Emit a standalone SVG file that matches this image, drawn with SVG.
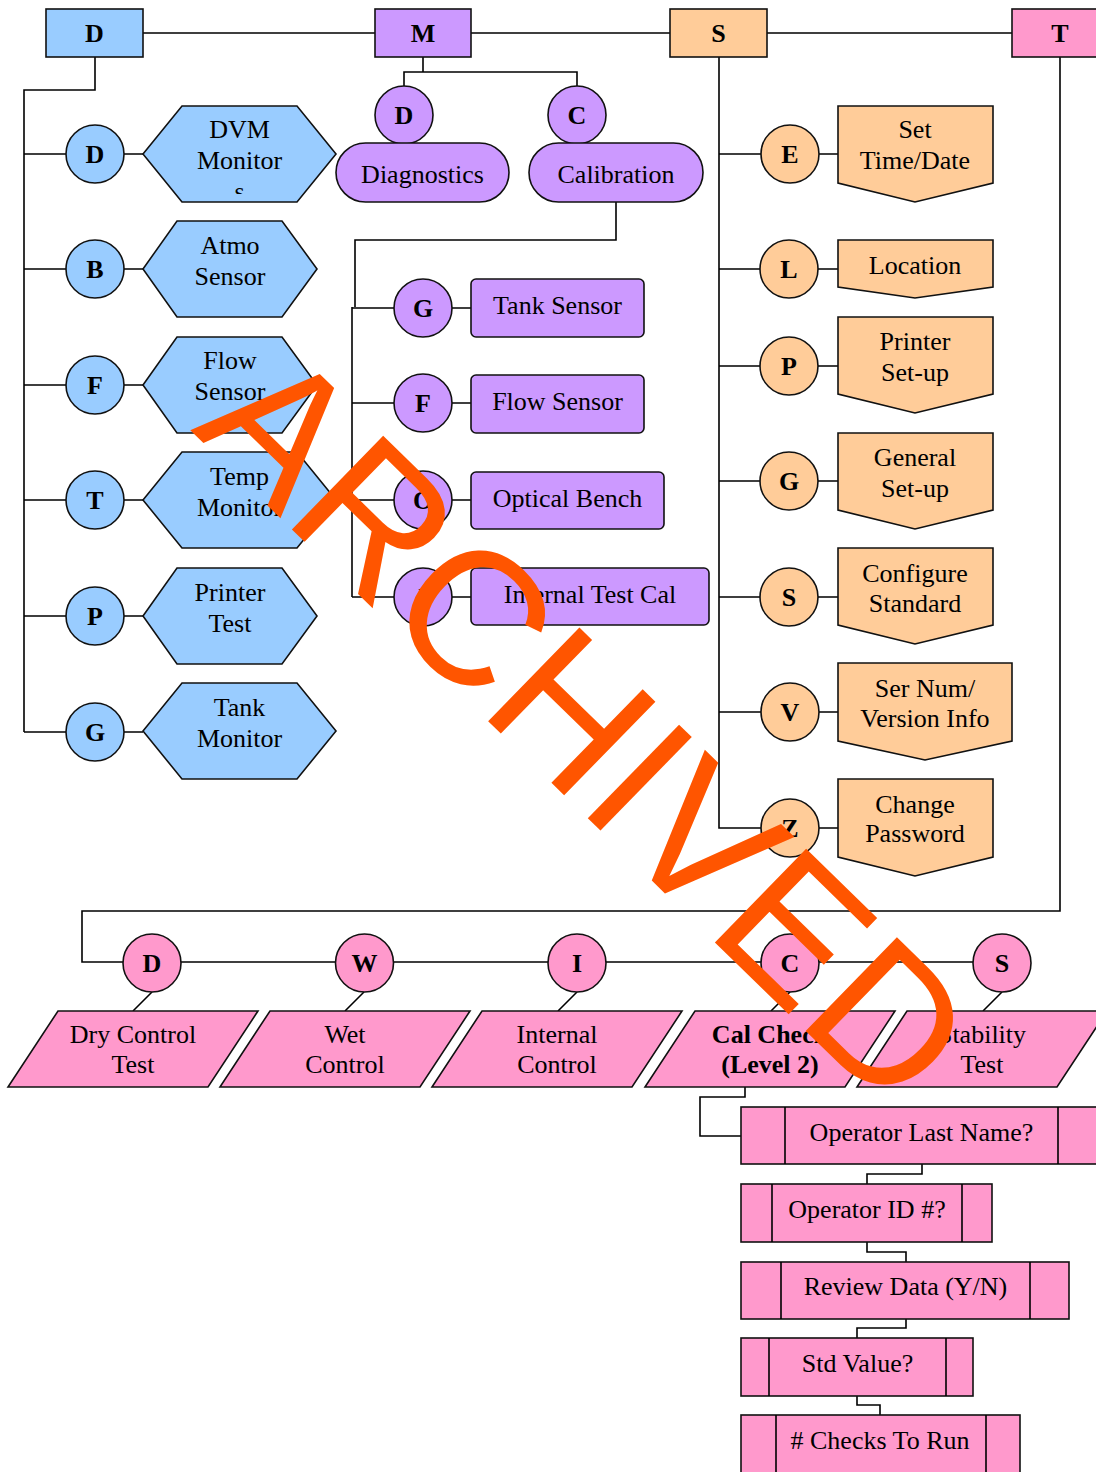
<svg xmlns="http://www.w3.org/2000/svg" width="1096" height="1472" viewBox="0 0 1096 1472">
<style>
  .ln{fill:none;stroke:#000;stroke-width:1.6}
  .sh{stroke:#111;stroke-width:1.6}
  .blue{fill:#99CCFF}
  .purple{fill:#CC99FF}
  .orange{fill:#FFCC99}
  .pink{fill:#FF99CC}
  .t{font-family:"Liberation Serif","Times New Roman",serif;font-size:26px;fill:#000;text-anchor:middle}
  .b{font-weight:bold}
  .wm{font-family:"Liberation Sans",Arial,sans-serif;font-size:190px;fill:#FF5500}
</style>
<defs>
  <clipPath id="dvmclip"><rect x="140" y="100" width="200" height="94"/></clipPath>
</defs>
<rect width="1096" height="1472" fill="#fff"/>

<g id="connectors">
  <path class="ln" d="M143,33 H375 M471,33 H670 M767,33 H1012"/>
  <path class="ln" d="M95,57 V90 H24 V732"/>
  <path class="ln" d="M24,154 H66 M24,269 H66 M24,385 H66 M24,500 H66 M24,616 H66 M24,732 H66"/>
  <path class="ln" d="M124,154 H143 M124,269 H143 M124,385 H143 M124,500 H143 M124,616 H143 M124,732 H143"/>
  <path class="ln" d="M423,57 V72 M404,86 V72 H577 V86"/>
  <path class="ln" d="M616,202 V240 H355 V307"/>
  <path class="ln" d="M352,307 V597"/>
  <path class="ln" d="M352,308 H394 M352,403 H394 M352,500 H394 M352,597 H394"/>
  <path class="ln" d="M452,308 H471 M452,403 H471 M452,500 H471 M452,597 H471"/>
  <path class="ln" d="M719,57 V828 H761"/>
  <path class="ln" d="M719,154 H761 M719,269 H760 M719,366 H760 M719,481 H760 M719,597 H760 M719,712 H761"/>
  <path class="ln" d="M819,154 H838 M818,269 H838 M818,366 H838 M818,481 H838 M818,597 H838 M819,712 H838 M819,828 H838"/>
  <path class="ln" d="M1060,57 V911 H82 V962 H1002"/>
  <path class="ln" d="M152,992 L133,1011 M364,992 L345,1011 M577,992 L558,1011 M790,992 L771,1011 M1002,992 L983,1011"/>
  <path class="ln" d="M745,1087 V1097 H700 V1136 H741"/>
  <path class="ln" d="M922,1164 V1174 H867 V1184"/>
  <path class="ln" d="M867,1242 V1252 H906 V1262"/>
  <path class="ln" d="M906,1319 V1328 H857 V1338"/>
  <path class="ln" d="M857,1396 V1405 H880 V1415"/>
</g>

<g id="top-D"><rect class="sh blue" x="46" y="9" width="97" height="48"/><text class="t b" x="94.5" y="42">D</text></g>
<g id="top-M"><rect class="sh purple" x="375" y="9" width="96" height="48"/><text class="t b" x="423" y="42">M</text></g>
<g id="top-S"><rect class="sh orange" x="670" y="9" width="97" height="48"/><text class="t b" x="718.5" y="42">S</text></g>
<g id="top-T"><rect class="sh pink" x="1012" y="9" width="96" height="48"/><text class="t b" x="1060" y="42">T</text></g>

<g id="d-dvm">
  <circle class="sh blue" cx="95" cy="154" r="29"/><text class="t b" x="95" y="163">D</text>
  <polygon class="sh blue" points="143,154 182,106 297,106 336,154 297,202 182,202"/>
  <text class="t" x="239.5" y="138">DVM</text><text class="t" x="239.5" y="169">Monitor</text>
  <text class="t" x="239.5" y="200" clip-path="url(#dvmclip)">s</text>
</g>
<g id="d-atmo">
  <circle class="sh blue" cx="95" cy="269" r="29"/><text class="t b" x="95" y="278">B</text>
  <polygon class="sh blue" points="143,269 177,221 282,221 317,269 282,317 177,317"/>
  <text class="t" x="230" y="254">Atmo</text><text class="t" x="230" y="285">Sensor</text>
</g>
<g id="d-flow">
  <circle class="sh blue" cx="95" cy="385" r="29"/><text class="t b" x="95" y="394">F</text>
  <polygon class="sh blue" points="143,385 177,337 282,337 317,385 282,433 177,433"/>
  <text class="t" x="230" y="369">Flow</text><text class="t" x="230" y="400">Sensor</text>
</g>
<g id="d-temp">
  <circle class="sh blue" cx="95" cy="500" r="29"/><text class="t b" x="95" y="509">T</text>
  <polygon class="sh blue" points="143,500 182,452 297,452 336,500 297,548 182,548"/>
  <text class="t" x="239.5" y="485">Temp</text><text class="t" x="239.5" y="516">Monitor</text>
</g>
<g id="d-printer">
  <circle class="sh blue" cx="95" cy="616" r="29"/><text class="t b" x="95" y="625">P</text>
  <polygon class="sh blue" points="143,616 177,568 282,568 317,616 282,664 177,664"/>
  <text class="t" x="230" y="601">Printer</text><text class="t" x="230" y="632">Test</text>
</g>
<g id="d-tank">
  <circle class="sh blue" cx="95" cy="732" r="29"/><text class="t b" x="95" y="741">G</text>
  <polygon class="sh blue" points="143,731 182,683 297,683 336,731 297,779 182,779"/>
  <text class="t" x="239.5" y="716">Tank</text><text class="t" x="239.5" y="747">Monitor</text>
</g>

<g id="m-diag">
  <circle class="sh purple" cx="404" cy="115" r="29"/><text class="t b" x="404" y="124">D</text>
  <rect class="sh purple" x="336" y="143" width="173" height="59" rx="29.5"/>
  <text class="t" x="422.5" y="183">Diagnostics</text>
</g>
<g id="m-cal">
  <circle class="sh purple" cx="577" cy="115" r="29"/><text class="t b" x="577" y="124">C</text>
  <rect class="sh purple" x="529" y="143" width="174" height="59" rx="29.5"/>
  <text class="t" x="616" y="183">Calibration</text>
</g>
<g id="m-tank">
  <circle class="sh purple" cx="423" cy="308" r="29"/><text class="t b" x="423" y="317">G</text>
  <rect class="sh purple" x="471" y="279" width="173" height="58" rx="5"/>
  <text class="t" x="557.5" y="314">Tank Sensor</text>
</g>
<g id="m-flow">
  <circle class="sh purple" cx="423" cy="403" r="29"/><text class="t b" x="423" y="412">F</text>
  <rect class="sh purple" x="471" y="375" width="173" height="58" rx="5"/>
  <text class="t" x="557.5" y="410">Flow Sensor</text>
</g>
<g id="m-optical">
  <circle class="sh purple" cx="423" cy="500" r="29"/><text class="t b" x="423" y="509">O</text>
  <rect class="sh purple" x="471" y="472" width="193" height="57" rx="5"/>
  <text class="t" x="567.5" y="507">Optical Bench</text>
</g>
<g id="m-internal">
  <circle class="sh purple" cx="423" cy="597" r="29"/><text class="t b" x="423" y="606">I</text>
  <rect class="sh purple" x="471" y="568" width="238" height="57" rx="5"/>
  <text class="t" x="590" y="603">Internal Test Cal</text>
</g>

<g id="s-time">
  <circle class="sh orange" cx="790" cy="154" r="29"/><text class="t b" x="790" y="163">E</text>
  <polygon class="sh orange" points="838,106 993,106 993,183 915,202 838,183"/>
  <text class="t" x="915" y="138">Set</text><text class="t" x="915" y="169">Time/Date</text>
</g>
<g id="s-loc">
  <circle class="sh orange" cx="789" cy="269" r="29"/><text class="t b" x="789" y="278">L</text>
  <polygon class="sh orange" points="838,240 993,240 993,287 915,298 838,287"/>
  <text class="t" x="915" y="274">Location</text>
</g>
<g id="s-printer">
  <circle class="sh orange" cx="789" cy="366" r="29"/><text class="t b" x="789" y="375">P</text>
  <polygon class="sh orange" points="838,317 993,317 993,394 915,413 838,394"/>
  <text class="t" x="915" y="350">Printer</text><text class="t" x="915" y="381">Set-up</text>
</g>
<g id="s-general">
  <circle class="sh orange" cx="789" cy="481" r="29"/><text class="t b" x="789" y="490">G</text>
  <polygon class="sh orange" points="838,433 993,433 993,510 915,529 838,510"/>
  <text class="t" x="915" y="466">General</text><text class="t" x="915" y="497">Set-up</text>
</g>
<g id="s-config">
  <circle class="sh orange" cx="789" cy="597" r="29"/><text class="t b" x="789" y="606">S</text>
  <polygon class="sh orange" points="838,548 993,548 993,625 915,644 838,625"/>
  <text class="t" x="915" y="582">Configure</text><text class="t" x="915" y="612">Standard</text>
</g>
<g id="s-sernum">
  <circle class="sh orange" cx="790" cy="712" r="29"/><text class="t b" x="790" y="721">V</text>
  <polygon class="sh orange" points="838,663 1012,663 1012,741 925,760 838,741"/>
  <text class="t" x="925" y="697">Ser Num/</text><text class="t" x="925" y="727">Version Info</text>
</g>
<g id="s-password">
  <circle class="sh orange" cx="790" cy="828" r="29"/><text class="t b" x="790" y="837">Z</text>
  <polygon class="sh orange" points="838,779 993,779 993,857 915,876 838,857"/>
  <text class="t" x="915" y="813">Change</text><text class="t" x="915" y="842">Password</text>
</g>

<g id="t-dry">
  <circle class="sh pink" cx="152" cy="963" r="29"/><text class="t b" x="152" y="972">D</text>
  <polygon class="sh pink" points="58,1011 258,1011 208,1087 8,1087"/>
  <text class="t" x="133" y="1043">Dry Control</text><text class="t" x="133" y="1073">Test</text>
</g>
<g id="t-wet">
  <circle class="sh pink" cx="364.5" cy="963" r="29"/><text class="t b" x="364.5" y="972">W</text>
  <polygon class="sh pink" points="270,1011 470,1011 420,1087 220,1087"/>
  <text class="t" x="345" y="1043">Wet</text><text class="t" x="345" y="1073">Control</text>
</g>
<g id="t-internal">
  <circle class="sh pink" cx="577" cy="963" r="29"/><text class="t b" x="577" y="972">I</text>
  <polygon class="sh pink" points="482,1011 682,1011 632,1087 432,1087"/>
  <text class="t" x="557" y="1043">Internal</text><text class="t" x="557" y="1073">Control</text>
</g>
<g id="t-calcheck">
  <circle class="sh pink" cx="790" cy="963" r="29"/><text class="t b" x="790" y="972">C</text>
  <polygon class="sh pink" points="695,1011 895,1011 845,1087 645,1087"/>
  <text class="t b" x="770" y="1043">Cal Check</text><text class="t b" x="770" y="1073">(Level 2)</text>
</g>
<g id="t-stability">
  <circle class="sh pink" cx="1002" cy="963" r="29"/><text class="t b" x="1002" y="972">S</text>
  <polygon class="sh pink" points="907,1011 1107,1011 1057,1087 857,1087"/>
  <text class="t" x="982" y="1043">Stability</text><text class="t" x="982" y="1073">Test</text>
</g>

<g id="p-lastname">
  <rect class="sh pink" x="741" y="1107" width="361" height="57"/>
  <path class="ln" d="M785,1107 V1164 M1058,1107 V1164"/>
  <text class="t" x="921.5" y="1141">Operator Last Name?</text>
</g>
<g id="p-id">
  <rect class="sh pink" x="741" y="1184" width="251" height="58"/>
  <path class="ln" d="M772,1184 V1242 M962,1184 V1242"/>
  <text class="t" x="867" y="1218">Operator ID #?</text>
</g>
<g id="p-review">
  <rect class="sh pink" x="741" y="1262" width="328" height="57"/>
  <path class="ln" d="M781,1262 V1319 M1030,1262 V1319"/>
  <text class="t" x="905.5" y="1295">Review Data (Y/N)</text>
</g>
<g id="p-std">
  <rect class="sh pink" x="741" y="1338" width="232" height="58"/>
  <path class="ln" d="M769,1338 V1396 M946,1338 V1396"/>
  <text class="t" x="857.5" y="1372">Std Value?</text>
</g>
<g id="p-checks">
  <rect class="sh pink" x="741" y="1415" width="279" height="70"/>
  <path class="ln" d="M776,1415 V1472 M986,1415 V1472"/>
  <text class="t" x="880" y="1449"># Checks To Run</text>
</g>

<text class="wm" transform="translate(190,430) rotate(44.3)">ARCHIVED</text>
</svg>
